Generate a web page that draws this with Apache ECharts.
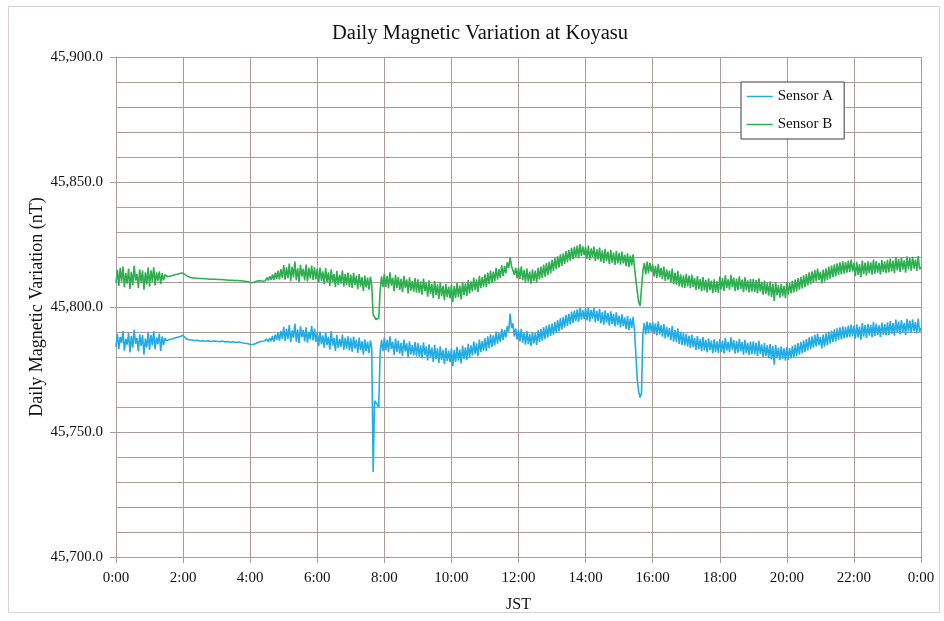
<!DOCTYPE html>
<html>
<head>
<meta charset="utf-8">
<title>Daily Magnetic Variation at Koyasu</title>
<script src="https://cdn.jsdelivr.net/npm/echarts@6/dist/echarts.min.js"></script>
<style>
  html, body { margin: 0; padding: 0; background: #ffffff; }
  #chart { width: 944px; height: 621px; }
</style>
</head>
<body>
<div id="chart"></div>
<script>
// Readings every 2.5 minutes, 0:00 to 24:00 JST (577 samples per sensor), in nT.
// Each row holds half an hour of readings.
const SAMPLE_MINUTES = 2.5;

const sensorA = [
  // 0:00
  45784.1, 45789.3, 45783.2, 45788.0, 45785.6, 45790.4, 45782.5, 45787.2, 45784.9, 45789.6, 45781.8, 45788.5,
  45783.7, 45790.9, 45785.3, 45787.6, 45782.2, 45789.1, 45784.4, 45788.8, 45780.9, 45787.4, 45783.8, 45789.9,
  // 1:00
  45782.8, 45788.9, 45784.6, 45790.3, 45783.1, 45787.8, 45785.2, 45789.4, 45782.4, 45788.2, 45784.9, 45787.5,
  45786.5, 45786.3, 45787.0, 45786.8, 45787.2, 45787.1, 45787.6, 45787.5, 45787.9, 45788.0, 45788.2, 45788.4,
  // 2:00
  45788.7, 45788.0, 45787.4, 45787.1, 45786.9, 45786.9, 45786.8, 45786.7, 45786.6, 45786.7, 45786.7, 45786.5,
  45786.4, 45786.5, 45786.5, 45786.4, 45786.3, 45786.4, 45786.5, 45786.3, 45786.2, 45786.3, 45786.4, 45786.3,
  // 3:00
  45786.3, 45786.2, 45786.1, 45786.3, 45786.4, 45786.2, 45786.0, 45786.1, 45786.2, 45786.0, 45785.9, 45786.0,
  45786.1, 45785.9, 45785.8, 45785.9, 45786.0, 45785.8, 45785.7, 45785.6, 45785.5, 45785.5, 45785.4, 45785.2,
  // 4:00
  45785.0, 45784.9, 45785.0, 45785.2, 45785.4, 45785.6, 45785.9, 45785.7, 45786.3, 45785.6, 45786.4, 45785.9,
  45787.2, 45786.0, 45787.6, 45786.3, 45788.4, 45786.2, 45789.0, 45786.9, 45789.8, 45786.5, 45790.4, 45787.3,
  // 5:00
  45792.1, 45786.4, 45791.3, 45787.2, 45792.8, 45785.9, 45790.6, 45787.7, 45793.4, 45786.1, 45791.0, 45785.5,
  45792.3, 45787.9, 45790.8, 45786.2, 45791.9, 45785.7, 45790.1, 45787.0, 45792.5, 45786.6, 45791.4, 45786.0,
  // 6:00
  45789.8, 45784.3, 45790.2, 45785.1, 45788.6, 45783.7, 45789.9, 45784.8, 45788.1, 45782.9, 45790.4, 45784.5,
  45787.6, 45782.4, 45788.9, 45783.6, 45787.2, 45784.1, 45789.0, 45782.8, 45787.7, 45783.3, 45788.3, 45782.6,
  // 7:00
  45787.5, 45782.1, 45788.2, 45783.4, 45786.9, 45781.6, 45787.8, 45782.7, 45786.4, 45780.9, 45787.1, 45782.3,
  45786.2, 45781.5, 45786.6, 45783.5, 45734.0, 45762.5, 45763.2, 45761.0, 45759.8, 45782.0, 45786.9, 45782.4,
  // 8:00
  45787.8, 45782.6, 45786.9, 45781.9, 45788.3, 45783.2, 45786.1, 45780.8, 45787.4, 45782.0, 45786.6, 45781.3,
  45785.7, 45780.4, 45787.0, 45782.2, 45785.5, 45779.9, 45786.3, 45781.0, 45784.8, 45780.6, 45786.0, 45780.2,
  // 9:00
  45785.6, 45780.1, 45784.7, 45779.4, 45785.9, 45780.8, 45784.2, 45778.6, 45785.1, 45779.7, 45783.8, 45778.0,
  45784.9, 45779.2, 45783.5, 45777.6, 45784.3, 45778.8, 45782.9, 45777.1, 45783.7, 45778.4, 45782.6, 45777.9,
  // 10:00
  45783.4, 45776.3, 45782.8, 45777.9, 45784.1, 45778.5, 45783.0, 45777.4, 45784.6, 45779.2, 45783.9, 45778.7,
  45785.3, 45779.8, 45784.7, 45780.6, 45786.2, 45781.1, 45785.5, 45780.3, 45787.0, 45781.9, 45786.4, 45782.5,
  // 11:00
  45787.6, 45782.4, 45788.3, 45783.5, 45789.1, 45783.9, 45788.7, 45784.6, 45790.2, 45785.3, 45789.6, 45786.0,
  45791.3, 45786.8, 45790.9, 45787.9, 45792.4, 45790.1, 45797.4, 45791.6, 45793.5, 45788.2, 45791.4, 45786.9,
  // 12:00
  45790.9, 45786.2, 45791.3, 45785.7, 45789.8, 45784.9, 45790.4, 45785.1, 45789.2, 45784.3, 45790.0, 45785.4,
  45789.6, 45784.8, 45790.7, 45786.0, 45791.2, 45786.5, 45792.0, 45787.1, 45792.6, 45787.8, 45793.1, 45788.4,
  // 13:00
  45793.4, 45788.9, 45794.1, 45789.6, 45794.8, 45790.2, 45795.6, 45790.9, 45796.0, 45791.7, 45796.9, 45792.4,
  45797.3, 45793.0, 45798.2, 45793.6, 45798.6, 45794.3, 45799.1, 45794.0, 45799.7, 45794.9, 45798.8, 45795.2,
  // 14:00
  45799.4, 45794.6, 45800.0, 45794.1, 45798.9, 45795.3, 45799.6, 45793.8, 45798.5, 45794.4, 45799.2, 45793.5,
  45798.1, 45792.9, 45798.7, 45793.7, 45797.6, 45792.5, 45798.3, 45793.1, 45797.2, 45792.2, 45797.9, 45792.8,
  // 15:00
  45796.6, 45791.9, 45797.1, 45792.3, 45795.8, 45791.2, 45796.4, 45790.8, 45795.5, 45791.5, 45796.0, 45790.6,
  45790.5, 45771.0, 45766.0, 45763.8, 45765.5, 45789.5, 45793.6, 45789.0, 45794.2, 45789.4, 45793.8, 45790.1,
  // 16:00
  45794.0, 45789.2, 45793.5, 45788.6, 45794.3, 45789.0, 45792.7, 45788.1, 45793.2, 45787.4, 45792.1, 45787.9,
  45791.6, 45786.7, 45792.4, 45786.1, 45790.8, 45785.9, 45791.5, 45785.2, 45790.1, 45784.8, 45789.7, 45784.6,
  // 17:00
  45789.3, 45784.2, 45788.6, 45783.5, 45789.0, 45783.9, 45787.7, 45782.8, 45788.4, 45783.1, 45787.2, 45782.3,
  45788.0, 45782.6, 45786.9, 45781.8, 45787.5, 45782.7, 45786.6, 45781.5, 45787.1, 45782.0, 45786.3, 45781.6,
  // 18:00
  45787.2, 45782.0, 45786.6, 45781.4, 45787.7, 45782.5, 45786.1, 45781.9, 45787.9, 45782.8, 45786.8, 45781.3,
  45786.4, 45781.7, 45787.3, 45782.2, 45786.0, 45780.9, 45786.9, 45781.6, 45785.7, 45780.8, 45786.2, 45781.1,
  // 19:00
  45786.3, 45781.0, 45785.8, 45780.4, 45786.5, 45781.2, 45785.1, 45779.9, 45785.6, 45780.3, 45784.7, 45779.5,
  45785.2, 45779.0, 45784.4, 45776.9, 45784.9, 45779.6, 45783.8, 45778.7, 45784.3, 45779.2, 45783.5, 45778.5,
  // 20:00
  45784.0, 45778.9, 45783.6, 45779.4, 45784.5, 45779.8, 45785.0, 45780.2, 45785.6, 45780.9, 45786.1, 45781.4,
  45786.7, 45781.9, 45787.2, 45782.6, 45787.9, 45783.0, 45788.3, 45783.7, 45788.9, 45784.2, 45789.4, 45784.8,
  // 21:00
  45788.1, 45783.4, 45789.0, 45784.1, 45789.5, 45784.7, 45790.2, 45785.3, 45790.6, 45785.9, 45791.1, 45786.2,
  45791.5, 45786.8, 45791.9, 45787.0, 45792.3, 45787.4, 45792.0, 45787.7, 45792.6, 45787.9, 45793.0, 45788.2,
  // 22:00
  45792.5, 45787.3, 45793.1, 45787.8, 45792.2, 45786.9, 45793.6, 45788.1, 45792.8, 45787.6, 45793.3, 45788.5,
  45792.9, 45787.9, 45794.0, 45788.3, 45793.4, 45788.7, 45792.7, 45788.0, 45793.8, 45788.9, 45793.2, 45788.6,
  // 23:00
  45793.9, 45788.8, 45794.4, 45789.2, 45793.6, 45788.5, 45795.0, 45789.6, 45794.2, 45789.0, 45794.8, 45789.9,
  45793.7, 45788.7, 45795.3, 45790.1, 45794.6, 45789.5, 45795.1, 45790.3, 45794.0, 45789.4, 45795.4, 45790.0,
  // 24:00
  45791.6
];

const sensorB = [
  // 0:00
  45809.6, 45814.9, 45808.4, 45815.7, 45810.1, 45816.2, 45807.9, 45813.6, 45809.3, 45815.4, 45807.2, 45814.1,
  45808.8, 45816.5, 45810.6, 45813.2, 45807.6, 45815.0, 45809.7, 45814.6, 45806.9, 45813.9, 45809.0, 45815.8,
  // 1:00
  45808.1, 45814.7, 45810.0, 45815.9, 45808.6, 45813.8, 45810.5, 45814.3, 45809.2, 45813.5, 45810.7, 45812.9,
  45812.2, 45812.1, 45812.4, 45812.4, 45812.6, 45812.7, 45812.9, 45813.0, 45813.1, 45813.3, 45813.4, 45813.6,
  // 2:00
  45813.9, 45813.2, 45812.6, 45812.3, 45812.0, 45811.9, 45811.8, 45811.6, 45811.5, 45811.6, 45811.6, 45811.4,
  45811.3, 45811.4, 45811.4, 45811.3, 45811.2, 45811.3, 45811.3, 45811.1, 45811.0, 45811.1, 45811.2, 45811.1,
  // 3:00
  45811.0, 45811.0, 45810.9, 45811.0, 45811.1, 45810.9, 45810.7, 45810.8, 45810.9, 45810.7, 45810.6, 45810.7,
  45810.8, 45810.6, 45810.5, 45810.6, 45810.7, 45810.5, 45810.4, 45810.4, 45810.3, 45810.2, 45810.1, 45810.0,
  // 4:00
  45809.8, 45809.7, 45809.9, 45810.0, 45810.2, 45810.4, 45810.6, 45810.5, 45810.9, 45810.3, 45811.0, 45810.5,
  45811.8, 45810.6, 45812.3, 45810.9, 45813.0, 45810.8, 45813.7, 45811.2, 45814.5, 45811.0, 45815.2, 45811.6,
  // 5:00
  45816.8, 45810.9, 45815.9, 45811.5, 45817.4, 45810.3, 45816.1, 45811.8, 45818.2, 45810.7, 45815.5, 45810.0,
  45816.9, 45812.2, 45815.3, 45810.6, 45817.0, 45810.2, 45815.7, 45811.4, 45816.6, 45810.8, 45815.9, 45811.1,
  // 6:00
  45815.4, 45809.7, 45815.8, 45810.4, 45814.3, 45809.1, 45815.6, 45810.0, 45813.9, 45808.4, 45815.1, 45809.8,
  45813.2, 45807.9, 45814.5, 45808.8, 45812.9, 45809.4, 45814.6, 45808.2, 45813.3, 45808.7, 45813.8, 45808.0,
  // 7:00
  45813.0, 45807.6, 45813.7, 45808.8, 45812.5, 45807.1, 45813.2, 45808.1, 45812.0, 45806.4, 45812.6, 45807.8,
  45811.8, 45806.9, 45812.1, 45808.6, 45797.0, 45796.2, 45795.0, 45795.8, 45795.6, 45806.5, 45812.3, 45807.9,
  // 8:00
  45813.3, 45808.0, 45812.4, 45807.4, 45813.9, 45808.6, 45811.7, 45806.3, 45812.9, 45807.5, 45812.1, 45806.8,
  45811.3, 45805.9, 45812.5, 45807.7, 45811.0, 45805.4, 45811.9, 45806.5, 45810.4, 45806.1, 45811.6, 45805.7,
  // 9:00
  45811.1, 45805.6, 45810.2, 45804.9, 45811.4, 45806.3, 45809.8, 45804.1, 45810.7, 45805.2, 45809.3, 45803.5,
  45810.4, 45804.7, 45809.1, 45803.1, 45809.9, 45804.3, 45808.5, 45802.7, 45809.2, 45803.9, 45808.2, 45803.4,
  // 10:00
  45809.0, 45801.9, 45808.4, 45803.5, 45809.7, 45804.0, 45808.6, 45803.0, 45810.1, 45804.8, 45809.5, 45804.3,
  45810.8, 45805.4, 45810.3, 45806.2, 45811.8, 45806.7, 45811.1, 45805.9, 45812.5, 45807.5, 45812.0, 45808.1,
  // 11:00
  45813.1, 45808.0, 45813.8, 45809.1, 45814.6, 45809.5, 45814.2, 45810.2, 45815.7, 45810.9, 45815.1, 45811.6,
  45816.8, 45812.3, 45816.4, 45813.5, 45817.9, 45815.6, 45819.9, 45816.4, 45816.8, 45812.9, 45815.7, 45811.5,
  // 12:00
  45815.8, 45811.2, 45816.3, 45810.7, 45814.8, 45809.9, 45815.4, 45810.1, 45814.2, 45809.3, 45815.0, 45810.4,
  45814.6, 45809.8, 45815.7, 45811.0, 45816.2, 45811.5, 45817.0, 45812.1, 45817.6, 45812.8, 45818.1, 45813.4,
  // 13:00
  45818.9, 45814.4, 45819.6, 45815.1, 45820.3, 45815.7, 45821.1, 45816.4, 45821.5, 45817.2, 45822.4, 45817.9,
  45822.8, 45818.5, 45823.7, 45819.1, 45824.1, 45819.8, 45824.6, 45819.5, 45825.2, 45820.4, 45824.3, 45820.7,
  // 14:00
  45824.0, 45819.2, 45824.6, 45818.7, 45823.5, 45819.9, 45824.2, 45818.4, 45823.1, 45819.0, 45823.8, 45818.1,
  45822.7, 45817.5, 45823.3, 45818.3, 45822.2, 45817.1, 45822.9, 45817.7, 45821.8, 45816.8, 45822.5, 45817.4,
  // 15:00
  45821.7, 45816.9, 45822.2, 45817.4, 45820.9, 45816.3, 45821.5, 45815.9, 45820.6, 45816.6, 45821.1, 45815.7,
  45816.0, 45806.0, 45801.8, 45800.4, 45801.0, 45814.5, 45817.6, 45813.0, 45818.2, 45813.4, 45817.8, 45814.1,
  // 16:00
  45817.0, 45812.2, 45816.5, 45811.6, 45817.3, 45812.0, 45815.7, 45811.1, 45816.2, 45810.4, 45815.1, 45810.9,
  45814.6, 45809.7, 45815.4, 45809.1, 45813.8, 45808.9, 45814.5, 45808.2, 45813.1, 45807.8, 45812.7, 45807.6,
  // 17:00
  45813.3, 45808.2, 45812.6, 45807.5, 45813.0, 45807.9, 45811.7, 45806.8, 45812.4, 45807.1, 45811.2, 45806.3,
  45812.0, 45806.6, 45810.9, 45805.8, 45811.5, 45806.7, 45810.6, 45805.5, 45811.1, 45806.0, 45810.3, 45805.6,
  // 18:00
  45812.2, 45807.0, 45811.6, 45806.4, 45812.7, 45807.5, 45811.1, 45806.9, 45812.9, 45807.8, 45811.8, 45806.3,
  45811.4, 45806.7, 45812.3, 45807.2, 45811.0, 45805.9, 45811.9, 45806.6, 45810.7, 45805.8, 45811.2, 45806.1,
  // 19:00
  45811.3, 45806.0, 45810.8, 45805.4, 45811.5, 45806.2, 45810.1, 45804.9, 45810.6, 45805.3, 45809.7, 45804.5,
  45810.2, 45804.0, 45809.4, 45802.4, 45809.9, 45804.6, 45808.8, 45803.7, 45809.3, 45804.2, 45808.5, 45803.5,
  // 20:00
  45810.0, 45804.9, 45809.6, 45805.4, 45810.5, 45805.8, 45811.0, 45806.2, 45811.6, 45806.9, 45812.1, 45807.4,
  45812.7, 45807.9, 45813.2, 45808.6, 45813.9, 45809.0, 45814.3, 45809.7, 45814.9, 45810.2, 45815.4, 45810.8,
  // 21:00
  45814.1, 45809.4, 45815.0, 45810.1, 45815.5, 45810.7, 45816.2, 45811.3, 45816.6, 45811.9, 45817.1, 45812.2,
  45817.5, 45812.8, 45817.9, 45813.0, 45818.3, 45813.4, 45818.0, 45813.7, 45818.6, 45813.9, 45819.0, 45814.2,
  // 22:00
  45817.5, 45812.3, 45818.1, 45812.8, 45817.2, 45811.9, 45818.6, 45813.1, 45817.8, 45812.6, 45818.3, 45813.5,
  45817.9, 45812.9, 45819.0, 45813.3, 45818.4, 45813.7, 45817.7, 45813.0, 45818.8, 45813.9, 45818.2, 45813.6,
  // 23:00
  45818.9, 45813.8, 45819.4, 45814.2, 45818.6, 45813.5, 45820.0, 45814.6, 45819.2, 45814.0, 45819.8, 45814.9,
  45818.7, 45813.7, 45820.3, 45815.1, 45819.6, 45814.5, 45820.1, 45815.3, 45819.0, 45814.4, 45820.4, 45815.0,
  // 24:00
  45816.1
];

const seriesNames = ['Sensor A', 'Sensor B'];
const seriesColors = ['#22ace4', '#2dae4f'];

const FONT = '"Liberation Serif", "Times New Roman", "DejaVu Serif", serif';
const GRID_COLOR = '#ab9b9b';

// pair each reading with its minute of the day
const toPoints = arr => arr.map((v, i) => [i * SAMPLE_MINUTES, v]);

const chart = echarts.init(document.getElementById('chart'), null, { renderer: 'canvas' });

chart.setOption({
  backgroundColor: '#ffffff',
  animation: false,
  title: {
    text: 'Daily Magnetic Variation at Koyasu',
    left: 327,
    top: 18,
    textStyle: { fontFamily: FONT, fontSize: 20.5, fontWeight: 'normal', color: '#111111' }
  },
  graphic: [{
    type: 'rect',
    silent: true,
    z: -1,
    shape: { x: 8.5, y: 6.5, width: 931, height: 606 },
    style: { fill: 'none', stroke: '#dccfcf', lineWidth: 1 }
  }],
  legend: {
    orient: 'vertical',
    left: 741,
    top: 82,
    padding: [7, 11, 7, 5],
    itemWidth: 26,
    itemHeight: 14,
    itemGap: 13,
    backgroundColor: '#ffffff',
    borderColor: '#3a3a3a',
    borderWidth: 1,
    itemStyle: { opacity: 0 },
    lineStyle: { width: 1.5 },
    textStyle: { fontFamily: FONT, fontSize: 15, color: '#111111' },
    data: seriesNames
  },
  grid: { left: 116, right: 23, top: 57, bottom: 64, containLabel: false },
  xAxis: {
    type: 'value',
    min: 0,
    max: 1440,
    interval: 120,
    name: 'JST',
    nameLocation: 'middle',
    nameGap: 40,
    nameMoveOverlap: false,
    nameTextStyle: { fontFamily: FONT, fontSize: 16, color: '#111111' },
    axisLine: { show: true, lineStyle: { color: GRID_COLOR, width: 1 } },
    axisTick: { show: true, length: 6, lineStyle: { color: GRID_COLOR } },
    axisLabel: {
      margin: 14,
      fontFamily: FONT,
      fontSize: 15,
      color: '#111111',
      formatter: v => ((v / 60) % 24) + ':00'
    },
    splitLine: { show: true, lineStyle: { color: GRID_COLOR, width: 1 } }
  },
  yAxis: {
    type: 'value',
    min: 45700,
    max: 45900,
    interval: 50,
    name: 'Daily Magnetic Variation (nT)',
    nameLocation: 'middle',
    nameGap: 70,
    nameMoveOverlap: false,
    nameTextStyle: { fontFamily: FONT, fontSize: 18, color: '#111111' },
    axisLine: { show: true, lineStyle: { color: GRID_COLOR, width: 1 } },
    axisTick: { show: true, length: 6, lineStyle: { color: GRID_COLOR } },
    axisLabel: {
      margin: 13,
      fontFamily: FONT,
      fontSize: 15,
      color: '#111111',
      formatter: v => v.toLocaleString('en-US', { minimumFractionDigits: 1, maximumFractionDigits: 1 })
    },
    splitLine: { show: true, lineStyle: { color: GRID_COLOR, width: 1 } },
    minorTick: { show: false, splitNumber: 5 },
    minorSplitLine: { show: true, lineStyle: { color: GRID_COLOR, width: 1 } }
  },
  series: [
    {
      name: seriesNames[0],
      type: 'line',
      data: toPoints(sensorA),
      symbol: 'none',
      showSymbol: false,
      sampling: null,
      color: seriesColors[0],
      lineStyle: { color: seriesColors[0], width: 1.6 }
    },
    {
      name: seriesNames[1],
      type: 'line',
      data: toPoints(sensorB),
      symbol: 'none',
      showSymbol: false,
      sampling: null,
      color: seriesColors[1],
      lineStyle: { color: seriesColors[1], width: 1.6 }
    }
  ]
});
</script>
</body>
</html>
